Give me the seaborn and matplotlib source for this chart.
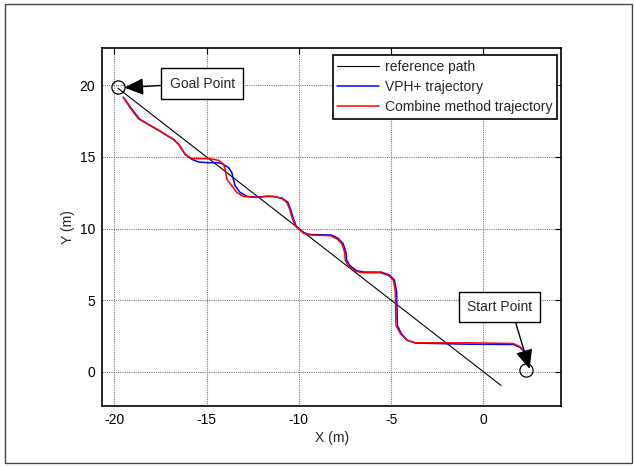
import numpy as np
import pandas as pd
import matplotlib
matplotlib.use("Agg")
import matplotlib.pyplot as plt
from matplotlib.patches import Rectangle
import seaborn as sns

# reference path (straight line from goal to past the start)
ref_x = [-19.8, 0.95]
ref_y = [19.8, -0.95]

# combine method trajectory (red)
comb_x = [-19.51, -19.14, -18.69, -18.15, -17.52, -16.79, -16.52, -16.16, -15.80, -15.50,
          -14.80, -14.35, -14.08, -13.99, -13.90, -13.63, -13.36, -13.00, -12.27, -11.73,
          -11.37, -10.92, -10.65, -10.50, -10.37, -10.20, -10.02, -9.75, -9.38, -8.30,
          -7.93, -7.66, -7.52, -7.48, -7.30, -6.94, -6.49, -5.59, -5.14, -4.87,
          -4.77, -4.74, -4.50, -4.14, -3.69, -0.72, 1.63, 1.99, 2.26, 2.39, 2.44]
comb_y = [19.17, 18.43, 17.66, 17.27, 16.80, 16.22, 15.88, 15.18, 14.88, 14.88,
          14.88, 14.76, 14.49, 14.14, 13.44, 12.98, 12.52, 12.24, 12.17, 12.24,
          12.24, 12.10, 11.82, 11.36, 10.78, 10.19, 9.97, 9.67, 9.55, 9.50,
          9.27, 8.92, 8.34, 7.76, 7.37, 7.02, 6.91, 6.91, 6.72, 6.37,
          5.56, 3.24, 2.66, 2.20, 2.02, 2.02, 1.97, 1.74, 1.39, 0.92, 0.58]

# VPH+ trajectory (blue)
vph_x = [-19.51, -19.10, -18.64, -18.15, -17.52, -16.79, -16.50, -16.16, -15.80, -15.44,
         -14.98, -14.44, -14.20, -13.81, -13.63, -13.57, -13.45, -13.18, -12.80, -12.27,
         -11.73, -11.37, -10.90, -10.60, -10.45, -10.32, -10.15, -9.98, -9.72, -9.38,
         -8.25, -7.88, -7.60, -7.45, -7.40, -7.22, -6.88, -6.45, -5.55, -5.10,
         -4.82, -4.70, -4.66, -4.45, -4.10, -3.66, -0.72, 1.63, 1.99, 2.26, 2.39, 2.44]
vph_y = [19.17, 18.43, 17.66, 17.27, 16.80, 16.22, 15.88, 15.18, 14.83, 14.65,
         14.60, 14.60, 14.55, 14.26, 13.91, 13.56, 12.98, 12.52, 12.24, 12.19,
         12.26, 12.24, 12.12, 11.84, 11.36, 10.78, 10.19, 9.97, 9.70, 9.58,
         9.55, 9.32, 8.95, 8.34, 7.76, 7.40, 7.06, 6.96, 6.96, 6.76,
         6.40, 5.56, 3.24, 2.66, 2.18, 2.00, 1.92, 1.90, 1.70, 1.36, 0.92, 0.58]

goal_pt = (-19.78, 19.87)
start_pt = (2.33, 0.12)

sns.set_style("white")
plt.rcParams["font.family"] = ["Liberation Sans", "DejaVu Sans"]
plt.rcParams["axes.unicode_minus"] = False

fig = plt.figure(figsize=(6.34, 4.67), dpi=100)
ax = fig.add_axes([0.161, 0.131, 0.724, 0.766])

sns.lineplot(x=ref_x, y=ref_y, sort=False, estimator=None, color="black",
             lw=0.8, label="reference path", ax=ax)
sns.lineplot(x=vph_x, y=vph_y, sort=False, estimator=None, color="#0000ff",
             lw=1.1, label="VPH+ trajectory", ax=ax)
sns.lineplot(x=comb_x, y=comb_y, sort=False, estimator=None, color="#ff0000",
             lw=1.1, label="Combine method trajectory", ax=ax)

# goal and start circles
ax.plot([goal_pt[0]], [goal_pt[1]], marker="o", ms=9.5, mfc="none", mec="black", mew=0.9)
ax.plot([start_pt[0]], [start_pt[1]], marker="o", ms=9.5, mfc="none", mec="black", mew=0.9)

box = dict(boxstyle="square,pad=0.6", fc="white", ec="black", lw=1)
arrow = dict(arrowstyle="-|>,head_length=0.9,head_width=0.4", mutation_scale=13,
             color="black", lw=1, shrinkA=0, shrinkB=0)
ax.annotate("Goal Point", xy=(-19.45, 19.84), xytext=(-15.24, 20.12),
            ha="center", va="center", fontsize=10, bbox=box,
            arrowprops=dict(arrow, relpos=(0, 0.4)))
ax.annotate("Start Point", xy=(2.5, 0.2), xytext=(0.87, 4.51),
            ha="center", va="center", fontsize=10, bbox=box,
            arrowprops=dict(arrow, relpos=(0.71, 0)))

ax.set_xlim(-20.66, 4.21)
ax.set_ylim(-2.38, 22.6)
ax.set_xticks([-20, -15, -10, -5, 0])
ax.set_yticks([0, 5, 10, 15, 20])
ax.grid(True, color="#777777", linestyle=(0, (1, 1)), lw=0.8)
ax.tick_params(direction="in", top=True, right=True, length=4, width=0.8,
               labelsize=10, colors="black", pad=5)
for s in ax.spines.values():
    s.set_color("black")
    s.set_linewidth(1.2)
ax.set_xlabel("X (m)", fontsize=10, labelpad=3)
ax.set_ylabel("Y (m)", fontsize=10, labelpad=3)

leg = ax.legend(loc="upper right", bbox_to_anchor=(557 / 634, 1 - 55 / 467),
                bbox_transform=fig.transFigure, borderaxespad=0, fontsize=10,
                handlelength=3.0, handletextpad=0.4, labelspacing=0.45,
                fancybox=False, framealpha=1, borderpad=0.35)
leg.get_frame().set_edgecolor("black")
leg.get_frame().set_linewidth(1.2)

# outer figure frame
fig.patches.append(Rectangle((5 / 634, 4 / 467), 627 / 634, 459 / 467, transform=fig.transFigure,
                             fill=False, ec="#444444", lw=1))

fig.savefig("out.png", dpi=100)
